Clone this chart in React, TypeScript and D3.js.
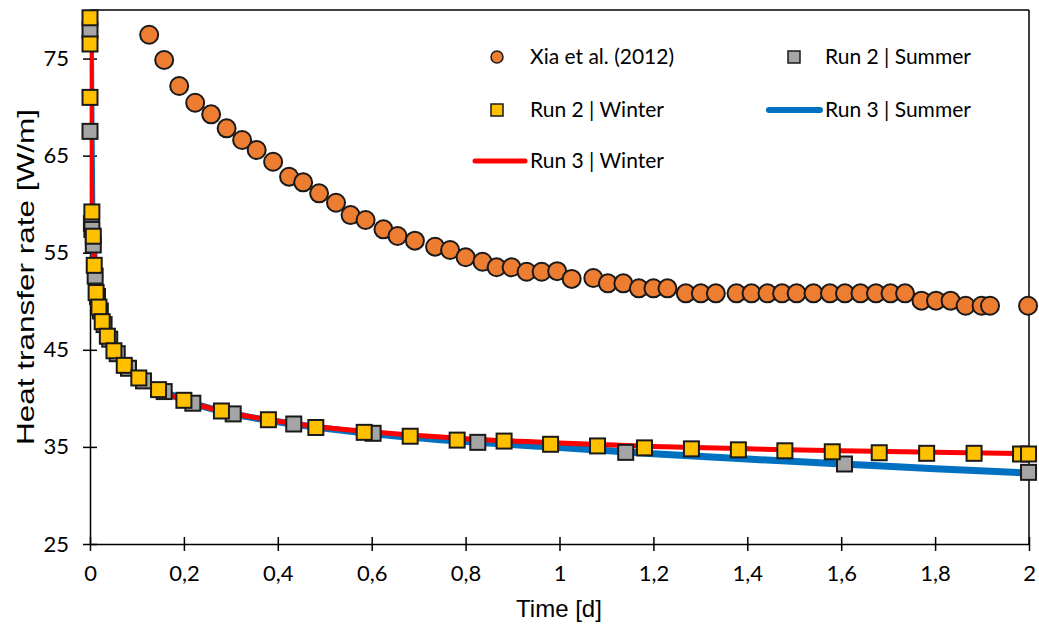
import React, { useEffect, useRef } from 'react';
import * as d3 from 'd3';

// Xia et al. (2012) measured points
const xiaTime = [0.126, 0.158, 0.19, 0.224, 0.258, 0.291, 0.324, 0.355, 0.39, 0.424, 0.454, 0.488, 0.524, 0.555, 0.587, 0.625, 0.655, 0.692, 0.735, 0.767, 0.8, 0.836, 0.866, 0.898, 0.93, 0.962, 0.995, 1.026, 1.072, 1.103, 1.136, 1.169, 1.2, 1.23, 1.269, 1.301, 1.333, 1.377, 1.409, 1.443, 1.474, 1.505, 1.541, 1.576, 1.608, 1.641, 1.674, 1.705, 1.736, 1.771, 1.802, 1.833, 1.865, 1.899, 1.917, 1.998];
const xiaRate = [77.45, 74.85, 72.17, 70.45, 69.25, 67.81, 66.61, 65.58, 64.37, 62.83, 62.25, 61.12, 60.15, 58.88, 58.37, 57.41, 56.72, 56.24, 55.62, 55.28, 54.53, 54.07, 53.5, 53.5, 53.04, 53.04, 53.1, 52.3, 52.4, 51.85, 51.85, 51.33, 51.33, 51.33, 50.82, 50.82, 50.82, 50.82, 50.82, 50.82, 50.82, 50.82, 50.82, 50.82, 50.82, 50.82, 50.82, 50.82, 50.82, 50.06, 50.06, 50.06, 49.54, 49.54, 49.54, 49.54];

// Run 2 | Summer
const r2SummerTime = [0, 0, 0.003, 0.004, 0.007, 0.011, 0.016, 0.022, 0.03, 0.042, 0.058, 0.082, 0.114, 0.158, 0.219, 0.305, 0.434, 0.603, 0.826, 1.141, 1.607, 1.999];
const r2SummerRate = [77.9, 67.5, 58.0, 57.4, 55.8, 52.6, 50.5, 49.0, 47.6, 46.1, 44.6, 43.1, 41.8, 40.7, 39.5, 38.4, 37.36, 36.4, 35.47, 34.44, 33.24, 32.38];

// Run 2 | Winter
const r2WinterTime = [0, 0, 0, 0.004, 0.007, 0.009, 0.013, 0.019, 0.026, 0.037, 0.051, 0.073, 0.104, 0.146, 0.2, 0.28, 0.38, 0.481, 0.584, 0.682, 0.782, 0.882, 0.981, 1.081, 1.181, 1.281, 1.381, 1.48, 1.581, 1.681, 1.782, 1.883, 1.982, 1.999];
const r2WinterRate = [79.2, 76.5, 71.0, 59.2, 56.7, 53.7, 50.9, 49.4, 47.9, 46.4, 44.9, 43.4, 42.1, 40.9, 39.8, 38.7, 37.8, 37.0, 36.5, 36.1, 35.7, 35.6, 35.27, 35.1, 34.9, 34.8, 34.7, 34.6, 34.5, 34.4, 34.34, 34.34, 34.27, 34.27];

// Run 3 | Winter
const r3WinterTime = [0, 0.001, 0.002, 0.004, 0.007, 0.01, 0.014, 0.02, 0.027, 0.037, 0.051, 0.073, 0.104, 0.146, 0.2, 0.28, 0.38, 0.48, 0.6, 0.8, 1.0, 1.2, 1.4, 1.6, 1.8, 2.0];
const r3WinterRate = [81, 76, 70, 59.5, 56.6, 53.8, 51.0, 49.4, 47.9, 46.4, 44.9, 43.4, 42.1, 40.9, 39.8, 38.7, 37.8, 37.1, 36.55, 35.85, 35.4, 35.05, 34.8, 34.6, 34.45, 34.3];

// Run 3 | Summer
const r3SummerTime = [0, 0.001, 0.002, 0.004, 0.007, 0.011, 0.015, 0.022, 0.03, 0.042, 0.058, 0.082, 0.114, 0.158, 0.219, 0.305, 0.434, 0.603, 0.8, 1.0, 1.2, 1.4, 1.6, 1.8, 2.0];
const r3SummerRate = [81, 76, 70, 59.0, 56.0, 52.8, 50.6, 49.0, 47.6, 46.1, 44.6, 43.1, 41.8, 40.7, 39.5, 38.4, 37.35, 36.35, 35.55, 34.95, 34.3, 33.75, 33.25, 32.75, 32.3];

const xTicks = [0, 0.2, 0.4, 0.6, 0.8, 1, 1.2, 1.4, 1.6, 1.8, 2];
const yTicks = [25, 35, 45, 55, 65, 75];

const zip = (t: number[], v: number[]) => t.map((d, i) => ({ t: d, v: v[i] }));

const App = () => {
  const ref = useRef<SVGSVGElement>(null);

  useEffect(() => {
    if (!ref.current) return;
    const W = 1039;
    const H = 626;
    const left = 90, right = 1029, top = 10, bottom = 544;

    const svg = d3.select(ref.current);
    svg.selectAll('*').remove();
    svg.attr('width', W).attr('height', H);

    const x = d3.scaleLinear().domain([0, 2]).range([left, right]);
    const y = d3.scaleLinear().domain([25, 80]).range([bottom, top]);

    const tickFont = 'Lato, "Open Sans", sans-serif';
    const titleFont = '"Liberation Sans", Arial, sans-serif';

    svg.append('defs').append('clipPath').attr('id', 'plotclip')
      .append('rect').attr('x', left).attr('y', top).attr('width', right - left).attr('height', bottom - top);

    // frame: top and right
    svg.append('line').attr('x1', left).attr('x2', right).attr('y1', top).attr('y2', top)
      .attr('stroke', '#000').attr('stroke-width', 1.5);
    svg.append('line').attr('x1', right).attr('x2', right).attr('y1', top).attr('y2', bottom)
      .attr('stroke', '#000').attr('stroke-width', 1.5);

    // x axis
    const gx = svg.append('g').attr('transform', `translate(0,${bottom})`)
      .call(d3.axisBottom(x).tickValues(xTicks).tickSizeInner(7).tickSizeOuter(0)
        .tickFormat(d => String(d).replace('.', ',')));
    gx.select('.domain').attr('stroke', '#000').attr('stroke-width', 1.5);
    gx.selectAll('.tick line').attr('y1', -7).attr('y2', 7).attr('stroke', '#000').attr('stroke-width', 1.5);
    gx.selectAll('.tick text').attr('y', 21).attr('font-size', 22).attr('font-family', tickFont).attr('fill', '#000');

    // y axis
    const gy = svg.append('g').attr('transform', `translate(${left},0)`)
      .call(d3.axisLeft(y).tickValues(yTicks).tickSizeInner(7).tickSizeOuter(0));
    gy.select('.domain').attr('stroke', '#000').attr('stroke-width', 1.5);
    gy.selectAll('.tick line').attr('x1', -7).attr('x2', 7).attr('stroke', '#000').attr('stroke-width', 1.5);
    gy.selectAll('.tick text').attr('x', -21).attr('font-size', 22).attr('font-family', tickFont).attr('fill', '#000');

    // axis titles
    svg.append('text').attr('x', 559).attr('y', 617).attr('text-anchor', 'middle')
      .attr('font-family', titleFont).attr('font-size', 24).attr('fill', '#000').text('Time [d]');
    svg.append('text').attr('transform', 'translate(34,277) rotate(-90)').attr('text-anchor', 'middle')
      .attr('font-family', titleFont).attr('font-size', 24).attr('fill', '#000')
      .attr('textLength', 336).attr('lengthAdjust', 'spacingAndGlyphs')
      .text('Heat transfer rate [W/m]');

    const line = d3.line<{ t: number; v: number }>()
      .x(d => x(d.t)).y(d => y(d.v)).curve(d3.curveMonotoneX);

    const plot = svg.append('g').attr('clip-path', 'url(#plotclip)');
    plot.append('path').datum(zip(r3SummerTime, r3SummerRate)).attr('d', line)
      .attr('fill', 'none').attr('stroke', '#0070C0').attr('stroke-width', 7);
    plot.append('path').datum(zip(r3WinterTime, r3WinterRate)).attr('d', line)
      .attr('fill', 'none').attr('stroke', '#FF0000').attr('stroke-width', 5);

    const sq = 15;
    svg.append('g').selectAll('rect').data(zip(r2SummerTime, r2SummerRate)).enter().append('rect')
      .attr('x', d => x(d.t) - sq / 2).attr('y', d => y(d.v) - sq / 2)
      .attr('width', sq).attr('height', sq)
      .attr('fill', '#A5A5A5').attr('stroke', '#1a1a1a').attr('stroke-width', 2);
    svg.append('g').selectAll('rect').data(zip(r2WinterTime, r2WinterRate)).enter().append('rect')
      .attr('x', d => x(d.t) - sq / 2).attr('y', d => y(d.v) - sq / 2)
      .attr('width', sq).attr('height', sq)
      .attr('fill', '#FFC000').attr('stroke', '#1a1a1a').attr('stroke-width', 2);
    svg.append('g').selectAll('circle').data(zip(xiaTime, xiaRate)).enter().append('circle')
      .attr('cx', d => x(d.t)).attr('cy', d => y(d.v)).attr('r', 9)
      .attr('fill', '#ED7D31').attr('stroke', '#1a1a1a').attr('stroke-width', 2);

    // legend
    const lg = svg.append('g').attr('font-family', tickFont).attr('font-size', 21).attr('fill', '#000');
    const txt = (tx: number, ty: number, s: string) =>
      lg.append('text').attr('x', tx).attr('y', ty).attr('dy', '0.35em').text(s);

    lg.append('circle').attr('cx', 497).attr('cy', 57).attr('r', 6)
      .attr('fill', '#ED7D31').attr('stroke', '#1a1a1a').attr('stroke-width', 1.5);
    txt(530, 57, 'Xia et al. (2012)');
    lg.append('rect').attr('x', 788).attr('y', 51).attr('width', 12).attr('height', 12)
      .attr('fill', '#A5A5A5').attr('stroke', '#1a1a1a').attr('stroke-width', 1.5);
    txt(825, 57, 'Run 2 | Summer');
    lg.append('rect').attr('x', 491).attr('y', 104).attr('width', 12).attr('height', 12)
      .attr('fill', '#FFC000').attr('stroke', '#1a1a1a').attr('stroke-width', 1.5);
    txt(530, 110, 'Run 2 | Winter');
    lg.append('line').attr('x1', 769).attr('x2', 820).attr('y1', 110).attr('y2', 110)
      .attr('stroke', '#0070C0').attr('stroke-width', 6).attr('stroke-linecap', 'round');
    txt(825, 110, 'Run 3 | Summer');
    lg.append('line').attr('x1', 475).attr('x2', 525).attr('y1', 161).attr('y2', 161)
      .attr('stroke', '#FF0000').attr('stroke-width', 5).attr('stroke-linecap', 'round');
    txt(530, 161, 'Run 3 | Winter');
  }, []);

  return <svg ref={ref} style={{ position: 'absolute', left: 0, top: 0, background: '#fff' }} />;
};

export default App;
